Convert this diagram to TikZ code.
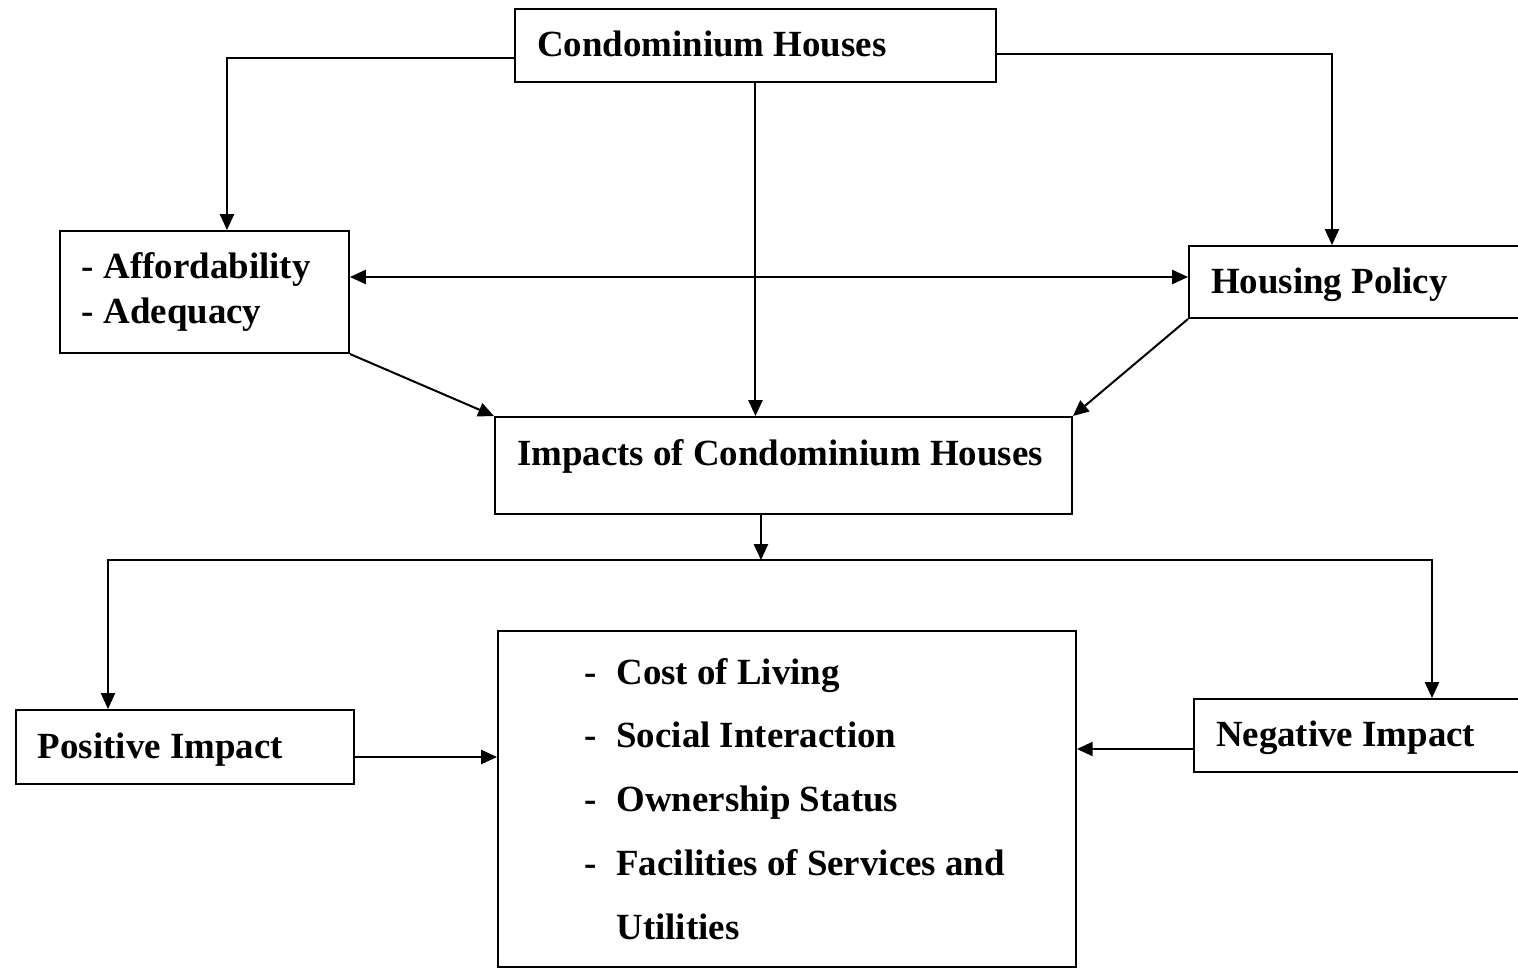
\documentclass[tikz,border=0pt]{standalone}
\usepackage{fontspec}
\setmainfont{Liberation Serif}
\usetikzlibrary{arrows.meta}

\begin{document}
\begin{tikzpicture}[x=0.02cm, y=-0.02cm, line width=0.40mm,
  >={Triangle[length=9pt,width=8pt]},
  box/.style={draw, anchor=north west, inner xsep=0.44cm, inner ysep=0pt, align=flush left,
    font=\bfseries\fontsize{21}{25.5}\selectfont},
  oneline/.style={box, text height=15pt, text depth=2pt}]
  \useasboundingbox (0,0) rectangle (1518,968);
  % Boxes
  \node[oneline, text width=8.74cm, minimum height=1.46cm] (ch) at (514,8) {Condominium Houses};
  \node[box, text width=4.90cm, minimum height=2.44cm] (aff) at (59,230) {- Affordability\\- Adequacy};
  \node[oneline, text width=6.16cm, minimum height=1.44cm] (hp) at (1188,245) {Housing Policy};
  \node[oneline, text width=10.66cm, minimum height=1.94cm, text depth=15pt] (imp) at (494,416) {Impacts of Condominium Houses};
  \node[oneline, text width=5.88cm, minimum height=1.48cm] (pos) at (15,709) {Positive Impact};
  \node[oneline, text width=6.06cm, minimum height=1.46cm] (neg) at (1193,698) {Negative Impact};
  \node[draw, anchor=north west, minimum width=11.56cm, minimum height=6.72cm, inner sep=0pt,
    font=\bfseries\fontsize{21}{36.3}\selectfont] (lst) at (497,630)
    {\begin{tabular}{@{\hspace{9pt}}l@{\hspace{11pt}}l@{}}
      - & Cost of Living\\
      - & Social Interaction\\
      - & Ownership Status\\
      - & Facilities of Services and\\
        & Utilities
    \end{tabular}};
  % Arrows from the top box
  \draw[->] ([yshift=-0.26cm]ch.west) -| ([xshift=0.45cm]aff.north);
  \draw[->] ([yshift=-0.17cm]ch.east) -| ([xshift=-0.66cm]hp.north);
  \draw[->] (ch.south) -- (ch.south |- imp.north);
  \draw[<->] ([yshift=0.3cm]aff.east) -- ([yshift=0.3cm]aff.east -| hp.west);
  \draw[->] (aff.south east) -- (imp.north west);
  \draw[->] (hp.south west) -- (imp.north east);
  % Split into positive and negative
  \coordinate (bl) at (108,560);
  \coordinate (br) at (1432,560);
  \draw[->] ([xshift=-0.45cm]imp.south) -- ([xshift=-0.45cm]imp.south |- bl);
  \draw[<->] (bl |- pos.north) -- (bl) -- (br) -- (br |- neg.north);
  \draw[->] ([yshift=-0.2cm]pos.east) -- ([yshift=-0.2cm]pos.east -| lst.west);
  \draw[->] ([yshift=-0.27cm]neg.west) -- ([yshift=-0.27cm]neg.west -| lst.east);
\end{tikzpicture}
\end{document}
